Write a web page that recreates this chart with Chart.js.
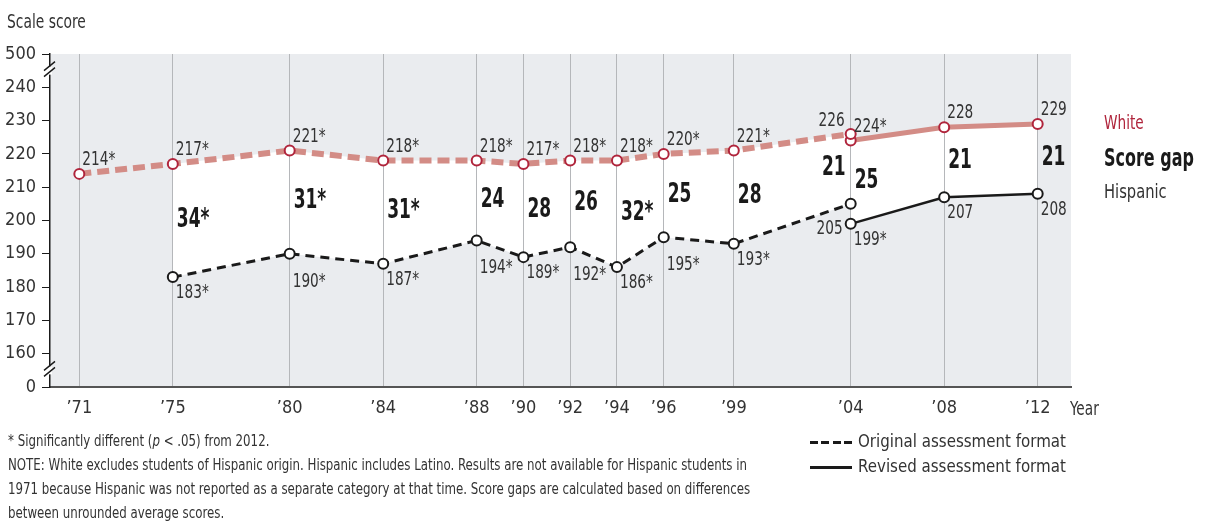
<!DOCTYPE html>
<html>
<head>
<meta charset="utf-8">
<script src="https://cdn.jsdelivr.net/npm/chart.js@4.4.1/dist/chart.umd.min.js"></script>
<style>
  html, body { margin: 0; padding: 0; background: #fff; }
  body { font-family: "Liberation Sans Narrow", "DejaVu Sans Condensed", sans-serif; color: #333; }
  #wrap { position: relative; width: 1206px; height: 521px; overflow: hidden; }
  #chart { position: absolute; left: 0; top: 0; }
  .txt { position: absolute; white-space: nowrap; transform-origin: 0 0; }
  #ytitle { left: 7px; top: 9px; font-size: 20px; color: #333; transform: scaleX(0.77); }
  #notes { left: 8px; top: 429px; font-size: 16px; line-height: 24px; color: #333; transform: scaleX(0.82); }
  #leg1 { left: 1104px; top: 111px; font-size: 19px; color: #b0253c; transform: scaleX(0.8); }
  #leg2 { left: 1104px; top: 143px; font-size: 25px; font-weight: bold; color: #1a1a1a; transform: scaleX(0.71); }
  #leg3 { left: 1104px; top: 180px; font-size: 19px; color: #333; transform: scaleX(0.86); }
  .fmt { left: 858px; font-size: 18px; color: #333; transform: scaleX(0.93); }
  #fmt1 { top: 430px; }
  #fmt2 { top: 455px; }
  .swatch { position: absolute; left: 810px; width: 42px; height: 3px; }
  #sw1 { top: 441px; background: repeating-linear-gradient(to right, #1a1a1a 0 8px, transparent 8px 11.5px); }
  #sw2 { top: 466px; background: #1a1a1a; }
</style>
</head>
<body>
<div id="wrap">
  <canvas id="chart" width="1206" height="521"></canvas>
  <div class="txt" id="ytitle">Scale score</div>
  <div class="txt" id="leg1">White</div>
  <div class="txt" id="leg2">Score gap</div>
  <div class="txt" id="leg3">Hispanic</div>
  <div class="swatch" id="sw1"></div>
  <div class="swatch" id="sw2"></div>
  <div class="txt fmt" id="fmt1">Original assessment format</div>
  <div class="txt fmt" id="fmt2">Revised assessment format</div>
  <div class="txt" id="notes">
    * Significantly different (<i>p</i> &lt; .05) from 2012.<br>
    NOTE: White excludes students of Hispanic origin. Hispanic includes Latino. Results are not available for Hispanic students in<br>
    1971 because Hispanic was not reported as a separate category at that time. Score gaps are calculated based on differences<br>
    between unrounded average scores.
  </div>
</div>
<script>
// datos (formato original y formato revisado)
const years = [1971, 1975, 1980, 1984, 1988, 1990, 1992, 1994, 1996, 1999, 2004];
const yearsRevised = [2004, 2008, 2012];

const whiteOrig = [214, 217, 221, 218, 218, 217, 218, 218, 220, 221, 226];
const whiteRev = [224, 228, 229];
const hispOrig = [null, 183, 190, 187, 194, 189, 192, 186, 195, 193, 205];
const hispRev = [199, 207, 208];

// significativo respecto a 2012
const whiteOrigSig = [true, true, true, true, true, true, true, true, true, true, false];
const whiteRevSig = [true, false, false];
const hispOrigSig = [false, true, true, true, true, true, true, true, true, true, false];
const hispRevSig = [true, false, false];

const gapOrig = ['', '34*', '31*', '31*', '24', '28', '26', '32*', '25', '28', '21'];
const gapRev = ['25', '21', '21'];

// eje y roto: 150 se muestra como 0 y 250 como 500
const yTicks = [150, 160, 170, 180, 190, 200, 210, 220, 230, 240, 250];
const yTickLabels = ['0', '160', '170', '180', '190', '200', '210', '220', '230', '240', '500'];
const xTicks = [1971, 1975, 1980, 1984, 1988, 1990, 1992, 1994, 1996, 1999, 2004, 2008, 2012];

const FONT = '"Liberation Sans Narrow", "DejaVu Sans Condensed", sans-serif';
const PINK = '#d38c86';
const RED = '#b0253c';
const INK = '#1a1a1a';

function pts(xs, ys) {
    return xs.map((x, i) => ({ x: x, y: ys[i] })).filter(p => p.y !== null);
}

// texto comprimido en horizontal (la fuente original es condensada)
function narrowText(ctx, text, x, y, align, sx) {
    ctx.save();
    ctx.translate(x, y);
    ctx.scale(sx, 1);
    ctx.textAlign = align;
    ctx.fillText(text, 0, 0);
    ctx.restore();
}

const backdrop = {
    id: 'backdrop',
    beforeDraw(chart) {
        const { ctx, chartArea: a, scales: { x, y } } = chart;
        ctx.save();
        ctx.fillStyle = '#eaecef';
        ctx.fillRect(a.left, a.top, a.right - a.left, a.bottom - a.top);
        // zona blanca entre las dos series
        ctx.beginPath();
        let first = true;
        years.forEach((yr, i) => {
            if (hispOrig[i] === null) return;
            const px = x.getPixelForValue(yr), py = y.getPixelForValue(whiteOrig[i]);
            if (first) { ctx.moveTo(px, py); first = false; } else ctx.lineTo(px, py);
        });
        yearsRevised.forEach((yr, i) => ctx.lineTo(x.getPixelForValue(yr), y.getPixelForValue(whiteRev[i])));
        for (let i = yearsRevised.length - 1; i >= 0; i--) {
            ctx.lineTo(x.getPixelForValue(yearsRevised[i]), y.getPixelForValue(hispRev[i]));
        }
        for (let i = years.length - 1; i >= 0; i--) {
            if (hispOrig[i] === null) continue;
            ctx.lineTo(x.getPixelForValue(years[i]), y.getPixelForValue(hispOrig[i]));
        }
        ctx.closePath();
        ctx.fillStyle = '#ffffff';
        ctx.fill();
        ctx.restore();
    },
    afterDraw(chart) {
        const { ctx, chartArea: a, scales: { x, y } } = chart;
        ctx.save();

        // cortes del eje y
        [y.getPixelForValue(245), y.getPixelForValue(155)].forEach(cy => {
            ctx.fillStyle = '#fff';
            ctx.fillRect(a.left - 3, cy - 4, 5, 8);
            ctx.strokeStyle = INK;
            ctx.lineWidth = 1.4;
            ctx.beginPath();
            ctx.moveTo(a.left - 6, cy); ctx.lineTo(a.left + 5, cy - 9);
            ctx.moveTo(a.left - 6, cy + 6); ctx.lineTo(a.left + 5, cy - 3);
            ctx.stroke();
        });

        // etiquetas de valores
        ctx.font = '19px ' + FONT;
        ctx.fillStyle = '#333';
        ctx.textBaseline = 'alphabetic';
        const SX = 0.8;
        function label(yr, val, sig, where, next) {
            if (val === null) return;
            const px = x.getPixelForValue(yr), py = y.getPixelForValue(val);
            const t = val + (sig ? '*' : '');
            if (where === 'aboveLeft') narrowText(ctx, t, px - 6, py - 8, 'right', SX);
            else if (where === 'above') narrowText(ctx, t, px + 3, py - 9, 'left', SX);
            else if (where === 'left') narrowText(ctx, t, px - 8, py + 30, 'right', SX);
            else {
                // si la línea baja hacia la derecha, la etiqueta se aparta más
                const drop = (next !== undefined && next !== null && next < val) ? 19 : 7;
                narrowText(ctx, t, px + 3, py + drop + 14, 'left', SX);
            }
        }
        years.forEach((yr, i) => {
            const last = i === years.length - 1;
            label(yr, whiteOrig[i], whiteOrigSig[i], last ? 'aboveLeft' : 'above');
            label(yr, hispOrig[i], hispOrigSig[i], last ? 'left' : 'below', hispOrig[i + 1]);
        });
        yearsRevised.forEach((yr, i) => {
            label(yr, whiteRev[i], whiteRevSig[i], 'above');
            label(yr, hispRev[i], hispRevSig[i], 'below', hispRev[i + 1]);
        });

        // brechas
        ctx.font = 'bold 27px ' + FONT;
        ctx.fillStyle = INK;
        function gap(yr, top, bottom, text, left) {
            if (!text) return;
            const px = x.getPixelForValue(yr);
            const py = (y.getPixelForValue(top) + y.getPixelForValue(bottom)) / 2 - 4;
            narrowText(ctx, text, left ? px - 5 : px + 4, py + 10, left ? 'right' : 'left', 0.7);
        }
        years.forEach((yr, i) => gap(yr, whiteOrig[i], hispOrig[i], gapOrig[i], i === years.length - 1));
        yearsRevised.forEach((yr, i) => gap(yr, whiteRev[i], hispRev[i], gapRev[i], false));

        // título del eje x
        ctx.font = '19px ' + FONT;
        ctx.fillStyle = '#333';
        narrowText(ctx, 'Year', 1070, 415, 'left', 0.8);
        ctx.restore();
    }
};

const whitePoint = { pointRadius: 5, pointBorderWidth: 2, pointBackgroundColor: '#fff', pointBorderColor: RED };
const hispPoint = { pointRadius: 5, pointBorderWidth: 2, pointBackgroundColor: '#fff', pointBorderColor: INK };

new Chart(document.getElementById('chart'), {
    type: 'line',
    data: {
        datasets: [
            Object.assign({ label: 'White (original)', data: pts(years, whiteOrig), borderColor: PINK, borderWidth: 6, borderDash: [12, 6] }, whitePoint),
            Object.assign({ label: 'White (revised)', data: pts(yearsRevised, whiteRev), borderColor: PINK, borderWidth: 5 }, whitePoint),
            Object.assign({ label: 'Hispanic (original)', data: pts(years, hispOrig), borderColor: INK, borderWidth: 3, borderDash: [9, 6] }, hispPoint),
            Object.assign({ label: 'Hispanic (revised)', data: pts(yearsRevised, hispRev), borderColor: INK, borderWidth: 2.5 }, hispPoint)
        ]
    },
    plugins: [backdrop],
    options: {
        responsive: false,
        animation: false,
        events: [],
        layout: { autoPadding: false, padding: { left: 0, top: 54, right: 135, bottom: 94 } },
        plugins: { legend: { display: false }, tooltip: { enabled: false } },
        scales: {
            x: {
                type: 'linear',
                min: 1969.746,
                max: 2013.425,
                afterBuildTicks: axis => { axis.ticks = xTicks.map(v => ({ value: v })); },
                afterFit: axis => { axis.height = 40; },
                grid: { color: '#b5b7ba', lineWidth: 1, drawTicks: false },
                border: { color: '#555', width: 2 },
                ticks: {
                    padding: 11,
                    color: '#333',
                    font: { family: FONT, size: 18 },
                    maxRotation: 0,
                    autoSkip: false,
                    callback: v => '\u2019' + String(v).slice(2)
                }
            },
            y: {
                min: 150,
                max: 250,
                afterBuildTicks: axis => { axis.ticks = yTicks.map(v => ({ value: v })); },
                afterFit: axis => { axis.width = 50; },
                grid: { drawOnChartArea: false, drawTicks: true, tickLength: 8, color: INK },
                border: { color: INK, width: 1.5 },
                ticks: {
                    padding: 6,
                    color: '#333',
                    font: { family: FONT, size: 18 },
                    callback: v => yTickLabels[yTicks.indexOf(v)]
                }
            }
        }
    }
});
</script>
</body>
</html>
